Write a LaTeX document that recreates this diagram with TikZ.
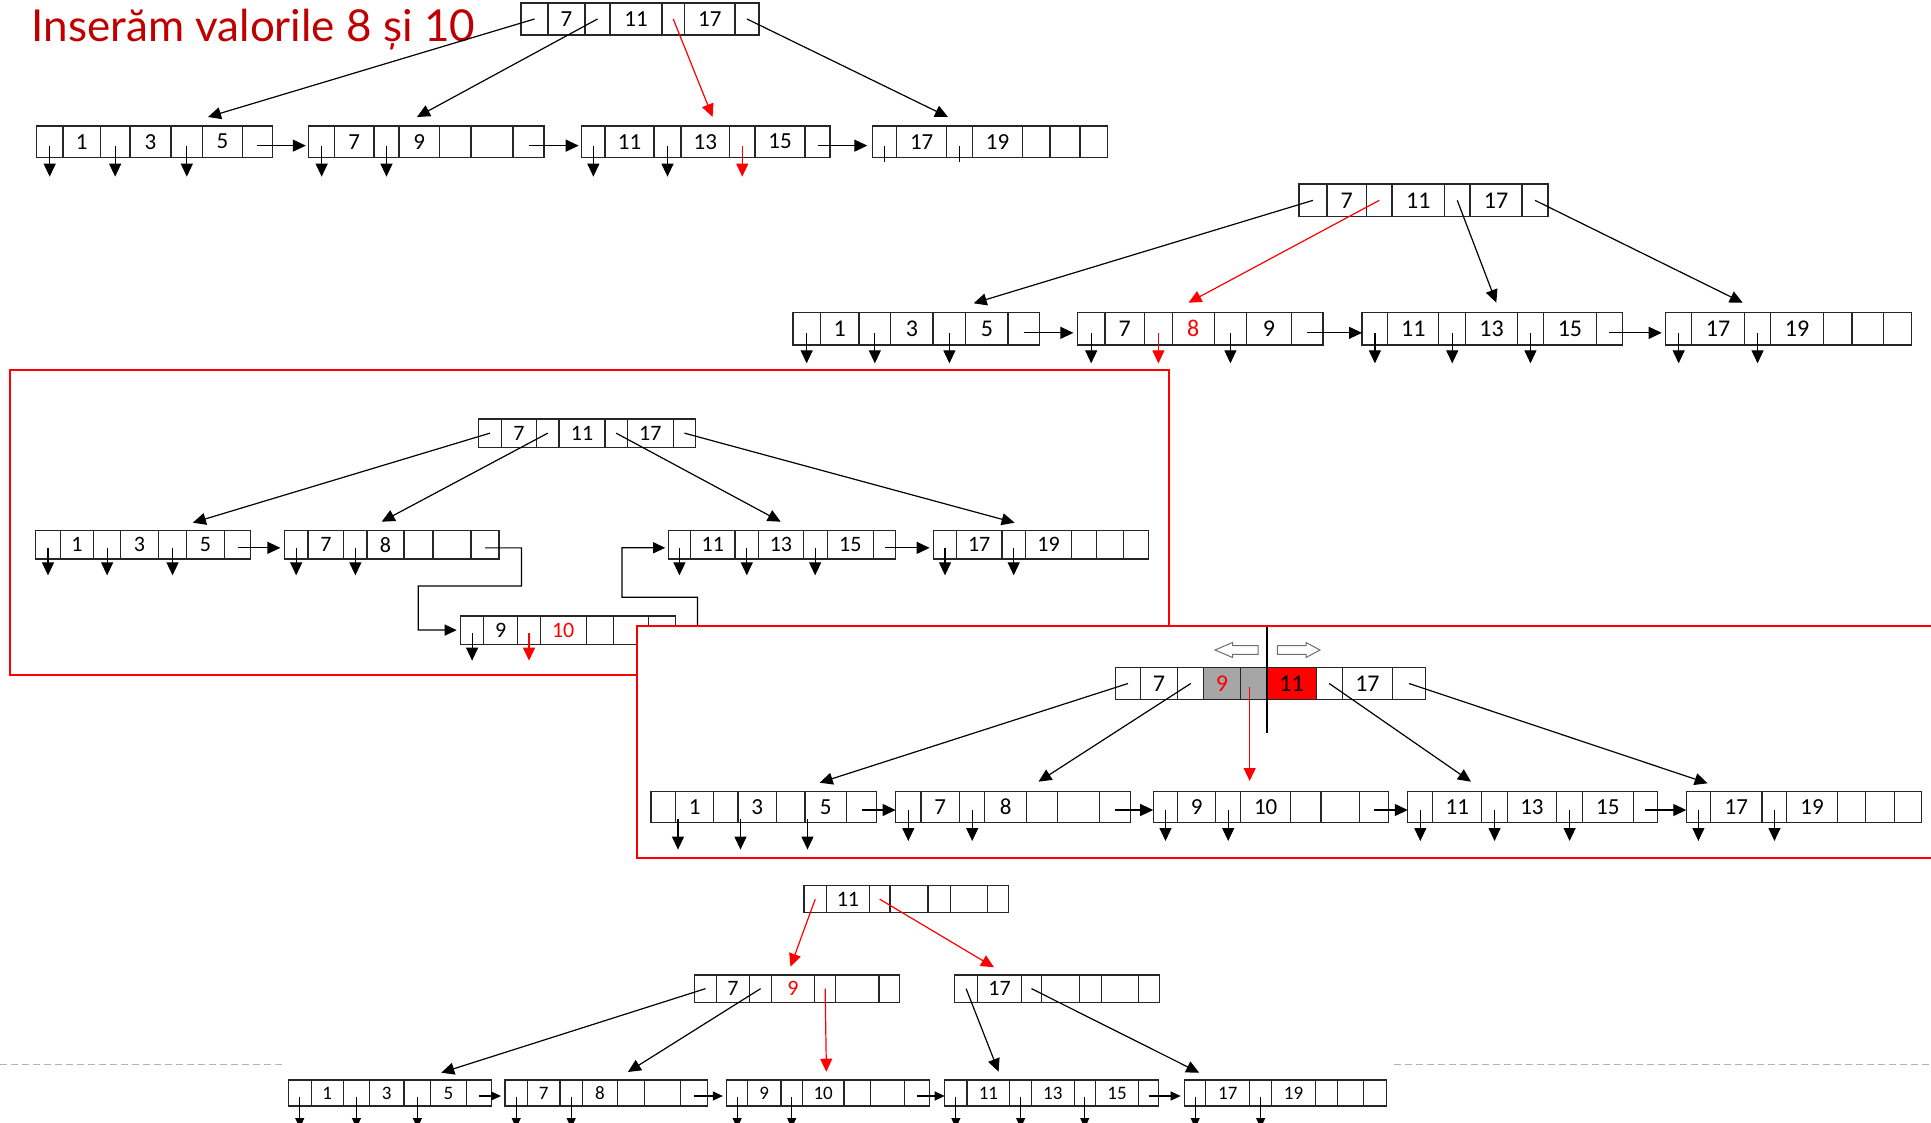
\documentclass[tikz,border=0pt]{standalone}
\usepackage{fontspec}
\usetikzlibrary{arrows.meta}
\newfontfamily\carlito{Carlito}
\newfontfamily\titlefont{Lato}
\definecolor{titlered}{HTML}{C00000}
\definecolor{cellgray}{HTML}{A6A6A6}
\definecolor{dashblue}{HTML}{A3B6CF}
\definecolor{hollowgray}{HTML}{6E6E6E}
\def\ns{23}
\tikzset{
  cell/.style={draw=black!85, line width=1.1pt, inner sep=0pt, outer sep=0pt,
    font={\carlito\fontsize{\ns}{\ns}\selectfont}, text=black},
  ptr/.style={line width=1.2pt, -{Triangle[length=13pt,width=12pt]}},
  sptr/.style={line width=1.1pt, -{Triangle[length=10pt,width=9pt]}},
  tick/.style={line width=1.2pt},
  redbox/.style={draw=red, line width=2pt},
  link/.style={line width=1.2pt, -{Triangle[length=12pt,width=11pt]}},
  hollow/.style={draw=hollowgray, fill=white, line width=1pt, line join=miter},
  dashline/.style={draw=dashblue, line width=1.5pt, dash pattern=on 7pt off 4pt},
}
% row of cells: [style]{name}{top}{bottom}{x1/x2/text,...}
\newcommand\brow[5][]{%
  \foreach \xa/\xb/\t [count=\i] in {#5}{%
    \node[cell,#1,minimum width={(\xb-\xa)*1pt},minimum height={(#4-#3)*1pt}]
      (#2-\i) at ({(\xa+\xb)/2},{(#3+#4)/2}) {\t};
  }%
}
% down pointer from a cell: [style]{node}{offset}{length}
\newcommand\dn[4][]{\draw[ptr,#1] (#2.center) ++(0,#3) -- ++(0,#4);}
\begin{document}
\begin{tikzpicture}[x=1pt,y=-1pt]
\useasboundingbox (0,0) rectangle (1931,1123);
\clip (0,0) rectangle (1931,1123);

% footer dashed line
\draw[dashline] (0,1064.3) -- (283.5,1064.3);
\draw[dashline] (1394.4,1064.3) -- (1931,1064.3);

% title
\node[anchor=base west, inner sep=0pt, text=titlered,
  font={\titlefont\fontsize{44}{44}\selectfont}] (title) at (31.5,41.7) {Inserăm valorile 8 și 10};

% ================= structure 1 =================
\def\ns{23}
\brow{r1}{3}{35}{521/548/{}, 548/585/7, 585/610/{}, 610/662/11, 662/684.5/{}, 684.5/735/17, 735/759/{}}
\brow{a1}{126}{157.3}{36.4/63/{}, 63/100.3/1, 100.3/130/{}, 130/171/3, 171/202.6/{}, 202.6/242.4/5, 242.4/272.4/{}}
\brow{b1}{126}{157.3}{308.8/334.5/{}, 334.5/374/7, 374/399/{}, 399/439.6/9, 439.6/471/{}, 471/513/{}, 513/544/{}}
\brow{c1}{126}{157.3}{581.7/605/{}, 605/654/11, 654/681/{}, 681/729.5/13, 729.5/755/{}, 755/805/15, 805/830/{}}
\brow{d1}{126}{157.3}{872.3/896.7/{}, 896.7/946.7/17, 946.7/972.3/{}, 972.3/1022.7/19, 1022.7/1050/{}, 1050/1080/{}, 1080/1107.3/{}}
\draw[ptr] (r1-1.center) -- (208,117);
\draw[ptr] (r1-3.center) -- (417,117);
\draw[ptr,red] (r1-5.center) -- (712.6,117);
\draw[ptr] (r1-7.center) -- (948,117);
\draw[ptr,shorten >=3pt] ([yshift=-4pt]a1-7.center) -- ([yshift=-4pt]b1-1.west);
\draw[ptr,shorten >=3pt] ([yshift=-4pt]b1-7.center) -- ([yshift=-4pt]c1-1.west);
\draw[ptr,shorten >=5pt] ([yshift=-4pt]c1-7.center) -- ([yshift=-4pt]d1-1.west);
\foreach \n in {a1-1,a1-3,a1-5,b1-1,b1-3,c1-1,c1-3} {\dn{\n}{4}{31}}
\dn[red]{c1-5}{4}{31}
\draw[tick] (d1-1.center) ++(0,4) -- ++(0,16);
\draw[tick] (d1-3.center) ++(0,4) -- ++(0,16);

% ================= structure 2 =================
\def\ns{24}
\brow{r2}{184}{216.7}{1299/1327/{}, 1327/1366.5/7, 1366.5/1392/{}, 1392/1444.5/11, 1444.5/1470/{}, 1470/1522/17, 1522/1548/{}}
\brow{a2}{312.7}{345}{793/820.3/{}, 820.3/859/1, 859/890.7/{}, 890.7/933/3, 933/965.8/{}, 965.8/1008/5, 1008/1039.4/{}}
\brow{b2}{312.7}{345}{1077.4/1105/{}, 1105/1144.6/7, 1144.6/1172.2/{}, 1172.2/1214.2/\textcolor{red}{8}, 1214.2/1246.6/{}, 1246.6/1291.3/9, 1291.3/1323/{}}
\brow{c2}{312.7}{345}{1362/1387.8/{}, 1387.8/1438.9/11, 1438.9/1465.6/{}, 1465.6/1517.5/13, 1517.5/1543.4/{}, 1543.4/1596.4/15, 1596.4/1622.3/{}}
\brow{d2}{312.7}{345}{1665.7/1691.6/{}, 1691.6/1744.6/17, 1744.6/1770.5/{}, 1770.5/1823.5/19, 1823.5/1852/{}, 1852/1883.5/{}, 1883.5/1911.3/{}}
\draw[ptr] (r2-1.center) -- (973.7,303.3);
\draw[ptr,red] (r2-3.center) -- (1188.5,302.7);
\draw[ptr] (r2-5.center) -- (1496.3,302.7);
\draw[ptr] (r2-7.center) -- (1742.7,302.7);
\draw[ptr,shorten >=4pt] ([yshift=-4pt]a2-7.center) -- ([yshift=-4pt]b2-1.west);
\draw[ptr] ([yshift=-4pt]b2-7.center) -- ([yshift=-4pt]c2-1.west);
\draw[ptr,shorten >=4pt] ([yshift=-4pt]c2-7.center) -- ([yshift=-4pt]d2-1.west);
\foreach \n in {a2-1,a2-3,a2-5,b2-1,b2-5,c2-1,c2-3,c2-5,d2-1,d2-3} {\dn{\n}{4}{30.5}}
\dn[red]{b2-3}{4}{30.5}

% ================= red box 1 =================
\draw[redbox] (9.8,370) rectangle (1169.3,675);
\def\ns{22}
\brow{r3}{419}{447.3}{478.6/501.3/{}, 501.3/536.6/7, 536.6/559/{}, 559/605/11, 605/627.2/{}, 627.2/673.4/17, 673.4/695.5/{}}
\brow{a3}{530.7}{559}{35.7/60.3/{}, 60.3/93.75/1, 93.75/120.5/{}, 120.5/158.5/3, 158.5/186.6/{}, 186.6/224.1/5, 224.1/250.9/{}}
\brow{b3}{530.7}{559}{284.4/308/{}, 308/343.75/7, 343.75/367/{}, 367/404/8, 404/433/{}, 433/471/{}, 471/499/{}}
\brow{c3}{530.7}{559}{668.2/690.7/{}, 690.7/735/11, 735/758.6/{}, 758.6/803.2/13, 803.2/827.1/{}, 827.1/873.6/15, 873.6/895.7/{}}
\brow{d3}{530.7}{559}{933.6/956.4/{}, 956.4/1002/17, 1002/1025.4/{}, 1025.4/1071.8/19, 1071.8/1096.8/{}, 1096.8/1123.6/{}, 1123.6/1148.6/{}}
\brow{e3}{616}{644.3}{460.7/483.5/{}, 483.5/517.9/9, 517.9/540.2/{}, 540.2/586.2/\textcolor{red}{10}, 586.2/613.8/{}, 613.8/648.2/{}, 648.2/675.4/{}}
\draw[ptr] (r3-1.center) -- (192.9,522.7);
\draw[ptr] (r3-3.center) -- (381.7,521.7);
\draw[ptr] (r3-5.center) -- (780.7,521.7);
\draw[ptr] (r3-7.center) -- (1014.6,522.7);
\draw[ptr,shorten >=4pt] ([yshift=-3pt]a3-7.center) -- ([yshift=-3pt]b3-1.west);
\draw[ptr,shorten >=4pt] ([yshift=-3pt]c3-7.center) -- ([yshift=-3pt]d3-1.west);
\draw[link,shorten >=4pt] ([yshift=-3pt]b3-7.center) -| (521.4,586) -| (418.3,630) -- (e3-1.west);
\draw[link,shorten >=3pt] (e3-7.center) -| (697.5,597.3) -| (622,547.7) -- ([yshift=-3pt]c3-1.west);
\foreach \n in {a3-1,a3-3,a3-5,b3-1,b3-3,c3-1,c3-3,c3-5,d3-1,d3-3,e3-1} {\dn{\n}{3}{27.5}}
\dn[red]{e3-3}{3}{27.5}

% ================= red box 2 =================
\draw[redbox, fill=white] (636.7,625.7) rectangle (1945,858);
\def\ns{24}
\brow{r4}{667.7}{699.3}{1115.7/1140.3/{}, 1140.3/1177.8/7, 1177.8/1203.7/{}}
\brow[fill=cellgray]{r4g}{667.7}{699.3}{1203.7/1240.3/\textcolor{red}{9}, 1240.3/1267/{}}
\brow[fill=red]{r4r}{667.7}{699.3}{1267/1316.1/11}
\brow{r4s}{667.7}{699.3}{1316.1/1342.3/{}, 1342.3/1392.6/17, 1392.6/1425.6/{}}
\draw[line width=1.2pt] (1267,627.3) -- (1267,733.3);
\draw[hollow] (1215,650) -- (1232.5,642.5) -- (1232.5,645.7) -- (1258,645.7) -- (1258,654.3) -- (1232.5,654.3) -- (1232.5,657.5) -- cycle;
\draw[hollow] (1320,650) -- (1306,642.5) -- (1306,645.7) -- (1277.3,645.7) -- (1277.3,654.3) -- (1306,654.3) -- (1306,657.5) -- cycle;
\def\ns{23}
\brow{a4}{791.7}{822.3}{651/675.5/{}, 675.5/713.9/1, 713.9/738/{}, 738/776.4/3, 776.4/805/{}, 805/846.5/5, 846.5/876.9/{}}
\brow{b4}{791.7}{822.3}{895.6/921/{}, 921/959.5/7, 959.5/984.9/{}, 984.9/1026.4/8, 1026.4/1057.7/{}, 1057.7/1099.6/{}, 1099.6/1130.9/{}}
\brow{c4}{791.7}{822.3}{1153.2/1177.8/{}, 1177.8/1215.7/9, 1215.7/1240.7/{}, 1240.7/1290.7/10, 1290.7/1321/{}, 1321/1359.2/{}, 1359.2/1388.5/{}}
\brow{d4}{791.7}{822.3}{1407.8/1432.8/{}, 1432.8/1481.9/11, 1481.9/1507.2/{}, 1507.2/1556.7/13, 1556.7/1582.5/{}, 1582.5/1633.2/15, 1633.2/1657.3/{}}
\brow{e4}{791.7}{822.3}{1686.3/1710.5/{}, 1710.5/1762/17, 1762/1786.9/{}, 1786.9/1837.2/19, 1837.2/1865.4/{}, 1865.4/1894.8/{}, 1894.8/1921.7/{}}
\draw[ptr] (r4-1.center) -- (819.7,782.7);
\draw[ptr] (r4-3.center) -- (1038.5,781.7);
\draw[ptr,red] (r4g-2.center) ++(-4,3) -- ++(0,94.5);
\draw[ptr] (r4s-1.center) -- (1471,781.7);
\draw[ptr] (r4s-3.center) -- (1707.6,783.3);
\draw[ptr] ([yshift=-3pt]a4-7.center) -- ([yshift=-3pt]b4-1.west);
\draw[ptr] ([yshift=-3pt]b4-7.center) -- ([yshift=-3pt]c4-1.west);
\draw[ptr] ([yshift=-3pt]c4-7.center) -- ([yshift=-3pt]d4-1.west);
\draw[ptr] ([yshift=-3pt]d4-7.center) -- ([yshift=-3pt]e4-1.west);
\foreach \n in {a4-2,a4-4,a4-6} {\draw[ptr] (\n.south west) ++(2.5,-3) -- ++(0,30.3);}
\foreach \n in {b4-1,b4-3,c4-1,c4-3,d4-1,d4-3,d4-5,e4-1,e4-3} {\dn{\n}{3}{31}}

% ================= bottom structure =================
\def\ns{22}
\brow{r5}{885.7}{912.7}{804/826.4/{}, 826.4/869.4/11, 869.4/890/{}, 890/928/{}, 928/950.7/{}, 950.7/987.7/{}, 987.7/1008.5/{}}
\brow{n7}{975}{1002.3}{694.8/716.3/{}, 716.3/749.8/7, 749.8/771.4/{}, 771.4/814.4/\textcolor{red}{9}, 814.4/835.9/{}, 835.9/879/{}, 879/899.5/{}}
\brow{n17}{975}{1002.3}{954.6/977.6/{}, 977.6/1021.6/17, 1021.6/1041.4/{}, 1041.4/1079.5/{}, 1079.5/1101.9/{}, 1101.9/1138.7/{}, 1138.7/1159.7/{}}
\draw[ptr,red] (r5-1.center) -- (790.5,966.7);
\draw[ptr,red] (r5-3.center) -- (994,967.3);
\draw[ptr] (n7-1.center) -- (441.3,1072.7);
\draw[ptr] (n7-3.center) -- (627.9,1072);
\draw[ptr,red] (n7-5.center) -- (826.4,1071.7);
\draw[ptr] (n17-1.center) -- (998.6,1071.7);
\draw[ptr] (n17-3.center) -- (1199.2,1072.7);
\def\ns{19}
\brow{a5}{1080}{1106}{288.3/311.2/{}, 311.2/343.3/1, 343.3/369.6/{}, 369.6/404/3, 404/430.8/{}, 430.8/466.2/5, 466.2/491.5/{}}
\brow{b5}{1080}{1106}{505/527.4/{}, 527.4/560/7, 560/582.4/{}, 582.4/617.3/8, 617.3/644.6/{}, 644.6/680.5/{}, 680.5/707.7/{}}
\brow{c5}{1080}{1106}{726.9/747.4/{}, 747.4/781/9, 781/802.4/{}, 802.4/844/10, 844/870.8/{}, 870.8/904.3/{}, 904.3/929.2/{}}
\brow{d5}{1080}{1106}{944.7/967/{}, 967/1009.8/11, 1009.8/1031.5/{}, 1031.5/1074.2/13, 1074.2/1095.3/{}, 1095.3/1138.7/15, 1138.7/1158.4/{}}
\brow{e5}{1080}{1106}{1184.7/1205.7/{}, 1205.7/1249.8/17, 1249.8/1271.5/{}, 1271.5/1315.5/19, 1315.5/1337.2/{}, 1337.2/1363.5/{}, 1363.5/1386.6/{}}
\draw[sptr,shorten >=4pt] ([yshift=-3pt]a5-7.center) -- ([yshift=-3pt]b5-1.west);
\draw[sptr,shorten >=4pt] ([yshift=-3pt]b5-7.center) -- ([yshift=-3pt]c5-1.west);
\draw[sptr] ([yshift=-3pt]c5-7.center) -- ([yshift=-3pt]d5-1.west);
\draw[sptr,shorten >=4pt] ([yshift=-3pt]d5-7.center) -- ([yshift=-3pt]e5-1.west);
\foreach \n in {a5-1,a5-3,a5-5,b5-1,b5-3,c5-1,c5-3,d5-1,d5-3,d5-5,e5-1,e5-3} {\draw[sptr] (\n.center) ++(0,4) -- ++(0,31);}
\end{tikzpicture}
\end{document}
